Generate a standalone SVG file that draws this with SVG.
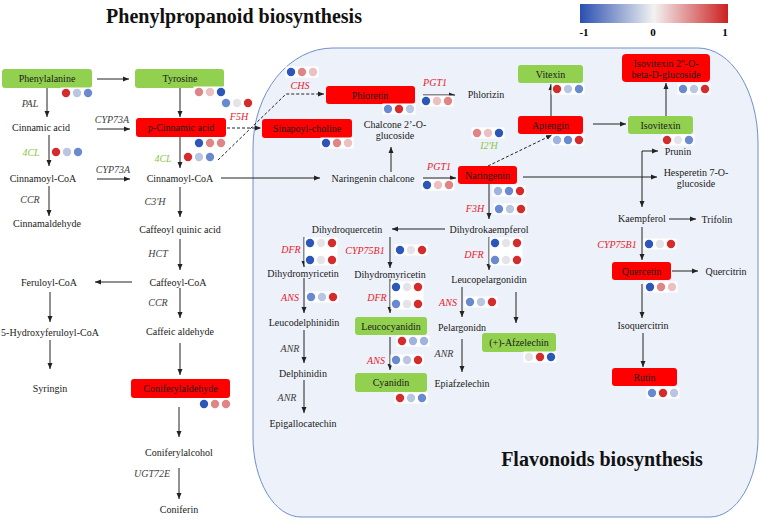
<svg xmlns="http://www.w3.org/2000/svg" width="760" height="520" viewBox="0 0 760 520">
<defs>
<linearGradient id="cb" x1="0" y1="0" x2="1" y2="0">
<stop offset="0" stop-color="#2a4fb0"/>
<stop offset="0.5" stop-color="#f2f2f2"/>
<stop offset="1" stop-color="#cc2020"/>
</linearGradient>
<marker id="ah" markerWidth="6" markerHeight="6" refX="6" refY="3" orient="auto-start-reverse" markerUnits="userSpaceOnUse">
<path d="M0,0.5 L6,3 L0,5.5 z" fill="#222"/>
</marker>
</defs>
<style>
.t{font-family:"Liberation Serif","Times New Roman",serif;font-size:10px;fill:#1a1a1a;text-anchor:middle}
.ti{font-family:"Liberation Serif","Times New Roman",serif;font-size:20px;font-weight:bold;fill:#111;text-anchor:middle}
.e{font-family:"Liberation Serif","Times New Roman",serif;font-size:10px;font-style:italic;text-anchor:middle;fill:#404040}
.er{fill:#e8202a}
.eg{fill:#8cc63f}
.gb{fill:#92d050}
.rb{fill:#ff0000}
.c line,.c path{stroke:#222;stroke-width:1;fill:none;marker-end:url(#ah)}
.c .d{stroke-dasharray:3,2}
.wb{fill:#fff}
.R{fill:#d42c2c}.P{fill:#e08585}.LP{fill:#ecc0c0}.G{fill:#e4e4e8}.LB{fill:#b8c6e2}.L2{fill:#9fb3e0}.MB{fill:#6a8ad0}.B{fill:#2c56b8}
</style>
<rect width="760" height="520" fill="#fff"/>
<path id="flavonoid-region" d="M333,48 H698 A60,95 0 0 1 758,143 V437 A48,80 0 0 1 710,517 H301 A48,80 0 0 1 253,437 V148 A80,100 0 0 1 333,48 Z" fill="#edf1f9" stroke="#7090c8" stroke-width="1"/>
<text class="ti" x="234" y="23">Phenylpropanoid biosynthesis</text>
<text class="ti" x="602" y="466">Flavonoids biosynthesis</text>
<g id="colorbar">
<rect x="580" y="4" width="148" height="19" fill="url(#cb)"/>
<text x="584" y="36" font-family="Liberation Serif, serif" font-size="11" font-weight="bold" text-anchor="middle">-1</text>
<text x="653" y="36" font-family="Liberation Serif, serif" font-size="11" font-weight="bold" text-anchor="middle">0</text>
<text x="725" y="36" font-family="Liberation Serif, serif" font-size="11" font-weight="bold" text-anchor="middle">1</text>
</g>
<g class="c" id="connectors">
<line x1="97" y1="79" x2="129" y2="79"/>
<line x1="47" y1="88" x2="47" y2="117"/>
<line x1="180" y1="88" x2="180" y2="117"/>
<line x1="97" y1="129" x2="130" y2="129"/>
<line class="d" x1="227" y1="128" x2="261" y2="128"/>
<line x1="49" y1="135" x2="49" y2="166"/>
<line x1="97" y1="179" x2="130" y2="179"/>
<line x1="180" y1="137" x2="180" y2="168"/>
<line x1="221" y1="178" x2="320" y2="178"/>
<path class="d" d="M218,160 L286,94 L324,94"/>
<line x1="49" y1="186" x2="49" y2="216"/>
<line x1="180" y1="187" x2="180" y2="217"/>
<line x1="180" y1="239" x2="180" y2="270"/>
<line x1="132" y1="282" x2="95" y2="282"/>
<line x1="180" y1="288" x2="180" y2="318"/>
<line x1="180" y1="343" x2="180" y2="375"/>
<line x1="179" y1="407" x2="179" y2="437"/>
<line x1="179" y1="468" x2="179" y2="499"/>
<line x1="50" y1="292" x2="50" y2="322"/>
<line x1="50" y1="340" x2="50" y2="369"/>
<line x1="391" y1="172" x2="391" y2="147"/>
<line x1="423" y1="95" x2="455" y2="95"/>
<line x1="423" y1="178" x2="456" y2="178"/>
<line class="d" x1="488" y1="166" x2="552" y2="135"/>
<line x1="523" y1="177" x2="657" y2="177"/>
<path d="M642,207 L642,151 L658,151" style="marker-start:url(#ah)"/>
<line x1="593" y1="124" x2="626" y2="124"/>
<line x1="551" y1="116" x2="551" y2="84"/>
<line x1="666" y1="116" x2="666" y2="83"/>
<line x1="489" y1="184" x2="489" y2="219"/>
<line x1="445" y1="229" x2="392" y2="229"/>
<line x1="304" y1="237" x2="304" y2="267"/>
<line x1="304" y1="278" x2="304" y2="313"/>
<line x1="304" y1="330" x2="304" y2="363"/>
<line x1="304" y1="380" x2="304" y2="413"/>
<line x1="390" y1="237" x2="390" y2="268"/>
<line x1="390" y1="279" x2="390" y2="313"/>
<line x1="390" y1="337" x2="390" y2="370"/>
<line x1="489" y1="237" x2="489" y2="270"/>
<line x1="462" y1="287" x2="462" y2="317"/>
<line x1="516" y1="292" x2="516" y2="323"/>
<line x1="462" y1="339" x2="462" y2="372"/>
<line x1="669" y1="219" x2="696" y2="219"/>
<line x1="642" y1="227" x2="642" y2="260"/>
<line x1="672" y1="271" x2="698" y2="271"/>
<line x1="642" y1="284" x2="642" y2="318"/>
<line x1="643" y1="333" x2="643" y2="367"/>
</g>
<g id="enzymes">
<text class="e" x="30" y="106.5">PAL</text>
<text class="e" x="112" y="122.5">CYP73A</text>
<text class="e er" x="239" y="119.5">F5H</text>
<text class="e eg" x="31" y="155.5">4CL</text>
<text class="e" x="113" y="172.5">CYP73A</text>
<text class="e eg" x="163" y="161.5">4CL</text>
<text class="e" x="30" y="202.5">CCR</text>
<text class="e" x="155" y="204.5">C3'H</text>
<text class="e" x="158" y="256.5">HCT</text>
<text class="e" x="158" y="305.5">CCR</text>
<text class="e" x="152" y="476.5">UGT72E</text>
<text class="e er" x="300" y="88.5">CHS</text>
<text class="e er" x="435" y="85.5">PGT1</text>
<text class="e er" x="439" y="169.5">PGT1</text>
<text class="e eg" x="489" y="148.5">I2'H</text>
<text class="e er" x="475" y="211.5">F3H</text>
<text class="e er" x="291" y="252.5">DFR</text>
<text class="e er" x="290" y="300.5">ANS</text>
<text class="e" x="290" y="351.5">ANR</text>
<text class="e" x="287" y="400.5">ANR</text>
<text class="e er" x="365" y="253.5">CYP75B1</text>
<text class="e er" x="377" y="300.5">DFR</text>
<text class="e er" x="376" y="363.5">ANS</text>
<text class="e er" x="474" y="257.5">DFR</text>
<text class="e er" x="448" y="305.5">ANS</text>
<text class="e" x="444" y="356.5">ANR</text>
<text class="e er" x="617" y="247.5">CYP75B1</text>
</g>
<g id="phenylalanine"><rect class="gb" x="2" y="69" width="90" height="19" rx="3"/><text class="t" x="47" y="82">Phenylalanine</text></g>
<g id="tyrosine"><rect class="gb" x="135" y="69" width="89" height="19" rx="3"/><text class="t" x="180" y="82">Tyrosine</text></g>
<g id="p-cinnamic-acid"><rect class="rb" x="136" y="118" width="90" height="19" rx="3"/><text class="t" x="181" y="131">p-Cinnamic acid</text></g>
<g id="sinapoyl-choline"><rect class="rb" x="262" y="119" width="90" height="19" rx="3"/><text class="t" x="307" y="132">Sinapoyl-choline</text></g>
<g id="phloretin"><rect class="rb" x="326" y="86" width="89" height="18" rx="3"/><text class="t" x="370" y="98.5">Phloretin</text></g>
<g id="coniferylaldehyde"><rect class="rb" x="131" y="379" width="99" height="19" rx="3"/><text class="t" x="180.5" y="392">Coniferylaldehyde</text></g>
<g id="cinnamic-acid"><text class="t" x="41" y="130.5">Cinnamic acid</text></g>
<g id="cinnamoyl-coa-1"><text class="t" x="43" y="181.5">Cinnamoyl-CoA</text></g>
<g id="cinnamaldehyde"><text class="t" x="47" y="226.5">Cinnamaldehyde</text></g>
<g id="cinnamoyl-coa-2"><text class="t" x="180" y="181.5">Cinnamoyl-CoA</text></g>
<g id="caffeoyl-quinic-acid"><text class="t" x="180" y="232.5">Caffeoyl quinic acid</text></g>
<g id="caffeoyl-coa"><text class="t" x="178" y="285.5">Caffeoyl-CoA</text></g>
<g id="feruloyl-coa"><text class="t" x="49" y="285.5">Feruloyl-CoA</text></g>
<g id="hydroxyferuloyl-coa"><text class="t" x="50" y="335.5">5-Hydroxyferuloyl-CoA</text></g>
<g id="syringin"><text class="t" x="50" y="391.5">Syringin</text></g>
<g id="caffeic-aldehyde"><text class="t" x="180" y="334.5">Caffeic aldehyde</text></g>
<g id="coniferylalcohol"><text class="t" x="179" y="455.5">Coniferylalcohol</text></g>
<g id="coniferin"><text class="t" x="179" y="512.5">Coniferin</text></g>
<g id="naringenin-chalcone"><text class="t" x="373" y="181.5">Naringenin chalcone</text></g>
<g id="chalcone-glucoside"><text class="t" x="395" y="127.5">Chalcone 2’-O-</text><text class="t" x="395" y="138.5">glucoside</text></g>
<g id="phlorizin"><text class="t" x="486" y="97.5">Phlorizin</text></g>
<g id="naringenin"><rect class="rb" x="458" y="166" width="59" height="18" rx="3"/><text class="t" x="487.5" y="178.5">Naringenin</text></g>
<g id="apiengin"><rect class="rb" x="518" y="116" width="65" height="18" rx="3"/><text class="t" x="550.5" y="128.5">Apiengin</text></g>
<g id="vitexin"><rect class="gb" x="518" y="65" width="65" height="18" rx="3"/><text class="t" x="550.5" y="77.5">Vitexin</text></g>
<g id="isovitexin"><rect class="gb" x="628" y="116" width="65" height="18" rx="3"/><text class="t" x="660.5" y="128.5">Isovitexin</text></g>
<g id="isovitexin-glucoside"><rect class="rb" x="622" y="54" width="88" height="28" rx="4"/><text class="t" x="666" y="66.5">Isovitexin 2''-O-</text><text class="t" x="666" y="78">beta-D-glucoside</text></g>
<g id="prunin"><text class="t" x="678" y="154.5">Prunin</text></g>
<g id="hesperetin"><text class="t" x="696" y="175.5">Hesperetin 7-O-</text><text class="t" x="696" y="186.5">glucoside</text></g>
<g id="dihydrokaempferol"><text class="t" x="489" y="232.5">Dihydrokaempferol</text></g>
<g id="dihydroquercetin"><text class="t" x="347" y="232.5">Dihydroquercetin</text></g>
<g id="dihydromyricetin-1"><text class="t" x="303" y="276.5">Dihydromyricetin</text></g>
<g id="leucodelphinidin"><text class="t" x="304" y="325.5">Leucodelphinidin</text></g>
<g id="delphinidin"><text class="t" x="303" y="376.5">Delphinidin</text></g>
<g id="epigallocatechin"><text class="t" x="303" y="426.5">Epigallocatechin</text></g>
<g id="dihydromyricetin-2"><text class="t" x="390" y="277.5">Dihydromyricetin</text></g>
<g id="leucocyanidin"><rect class="gb" x="355" y="317" width="72" height="18" rx="3"/><text class="t" x="391" y="329.5">Leucocyanidin</text></g>
<g id="cyanidin"><rect class="gb" x="355" y="373" width="72" height="19" rx="3"/><text class="t" x="391" y="386">Cyanidin</text></g>
<g id="leucopelargonidin"><text class="t" x="489" y="282.5">Leucopelargonidin</text></g>
<g id="pelargonidn"><text class="t" x="462" y="330.5">Pelargonidn</text></g>
<g id="afzelechin"><rect class="gb" x="482" y="333" width="74" height="19" rx="3"/><text class="t" x="519" y="346">(+)-Afzelechin</text></g>
<g id="epiafzelechin"><text class="t" x="462" y="386.5">Epiafzelechin</text></g>
<g id="kaempferol"><text class="t" x="642" y="221.5">Kaempferol</text></g>
<g id="trifolin"><text class="t" x="717" y="222.5">Trifolin</text></g>
<g id="quercetin"><rect class="rb" x="612" y="262" width="59" height="18" rx="3"/><text class="t" x="641.5" y="274.5">Quercetin</text></g>
<g id="quercitrin"><text class="t" x="726" y="274.5">Quercitrin</text></g>
<g id="isoquercitrin"><text class="t" x="643" y="328.5">Isoquercitrin</text></g>
<g id="rutin"><rect class="rb" x="612" y="368" width="65" height="18" rx="3"/><text class="t" x="644.5" y="380.5">Rutin</text></g>
<g id="dots">
<rect class="wb" x="60.5" y="87.5" width="33" height="11"/><circle class="R" cx="66" cy="93" r="4.2"/><circle class="LB" cx="77" cy="93" r="4.2"/><circle class="MB" cx="88" cy="93" r="4.2"/>
<rect class="wb" x="193.5" y="86.5" width="33" height="11"/><circle class="P" cx="199" cy="92" r="4.2"/><circle class="LP" cx="210" cy="92" r="4.2"/><circle class="B" cx="221" cy="92" r="4.2"/>
<rect class="wb" x="220.5" y="97.5" width="33" height="11"/><circle class="MB" cx="226" cy="103" r="4.2"/><circle class="G" cx="237" cy="103" r="4.2"/><circle class="R" cx="248" cy="103" r="4.2"/>
<rect class="wb" x="50.5" y="146.5" width="33" height="11"/><circle class="R" cx="56" cy="152" r="4.2"/><circle class="LB" cx="67" cy="152" r="4.2"/><circle class="MB" cx="78" cy="152" r="4.2"/>
<rect class="wb" x="193.5" y="137.5" width="33" height="11"/><circle class="B" cx="199" cy="143" r="4.2"/><circle class="P" cx="210" cy="143" r="4.2"/><circle class="P" cx="221" cy="143" r="4.2"/>
<rect class="wb" x="182.5" y="151.5" width="33" height="11"/><circle class="R" cx="188" cy="157" r="4.2"/><circle class="LB" cx="199" cy="157" r="4.2"/><circle class="MB" cx="210" cy="157" r="4.2"/>
<rect class="wb" x="285.5" y="66.5" width="33" height="11"/><circle class="B" cx="291" cy="72" r="4.2"/><circle class="P" cx="302" cy="72" r="4.2"/><circle class="LP" cx="313" cy="72" r="4.2"/>
<rect class="wb" x="382.5" y="103.5" width="33" height="11"/><circle class="MB" cx="388" cy="109" r="4.2"/><circle class="R" cx="399" cy="109" r="4.2"/><circle class="LB" cx="410" cy="109" r="4.2"/>
<rect class="wb" x="320.5" y="137.5" width="33" height="11"/><circle class="B" cx="326" cy="143" r="4.2"/><circle class="P" cx="337" cy="143" r="4.2"/><circle class="LP" cx="348" cy="143" r="4.2"/>
<rect class="wb" x="420.5" y="95.5" width="33" height="11"/><circle class="B" cx="426" cy="101" r="4.2"/><circle class="LP" cx="437" cy="101" r="4.2"/><circle class="P" cx="448" cy="101" r="4.2"/>
<rect class="wb" x="421.5" y="179.5" width="33" height="11"/><circle class="B" cx="427" cy="185" r="4.2"/><circle class="LP" cx="438" cy="185" r="4.2"/><circle class="P" cx="449" cy="185" r="4.2"/>
<rect class="wb" x="471.5" y="127.5" width="33" height="11"/><circle class="P" cx="477" cy="133" r="4.2"/><circle class="LP" cx="488" cy="133" r="4.2"/><circle class="B" cx="499" cy="133" r="4.2"/>
<rect class="wb" x="492.5" y="185.5" width="33" height="11"/><circle class="L2" cx="498" cy="191" r="4.2"/><circle class="MB" cx="509" cy="191" r="4.2"/><circle class="R" cx="520" cy="191" r="4.2"/>
<rect class="wb" x="493.5" y="203.5" width="33" height="11"/><circle class="MB" cx="499" cy="209" r="4.2"/><circle class="LB" cx="510" cy="209" r="4.2"/><circle class="R" cx="521" cy="209" r="4.2"/>
<rect class="wb" x="551.5" y="134.5" width="33" height="11"/><circle class="L2" cx="557" cy="140" r="4.2"/><circle class="MB" cx="568" cy="140" r="4.2"/><circle class="R" cx="579" cy="140" r="4.2"/>
<rect class="wb" x="551.5" y="83.5" width="33" height="11"/><circle class="R" cx="557" cy="89" r="4.2"/><circle class="LB" cx="568" cy="89" r="4.2"/><circle class="MB" cx="579" cy="89" r="4.2"/>
<rect class="wb" x="677.5" y="83.5" width="33" height="11"/><circle class="MB" cx="683" cy="89" r="4.2"/><circle class="LB" cx="694" cy="89" r="4.2"/><circle class="R" cx="705" cy="89" r="4.2"/>
<rect class="wb" x="661.5" y="134.5" width="33" height="11"/><circle class="R" cx="667" cy="140" r="4.2"/><circle class="G" cx="678" cy="140" r="4.2"/><circle class="MB" cx="689" cy="140" r="4.2"/>
<rect class="wb" x="304.5" y="237.5" width="33" height="28"/><circle class="B" cx="310" cy="243" r="4.2"/><circle class="G" cx="321" cy="243" r="4.2"/><circle class="R" cx="332" cy="243" r="4.2"/><circle class="B" cx="310" cy="260" r="4.2"/><circle class="G" cx="321" cy="260" r="4.2"/><circle class="R" cx="332" cy="260" r="4.2"/>
<rect class="wb" x="305.5" y="291.5" width="33" height="11"/><circle class="MB" cx="311" cy="297" r="4.2"/><circle class="LB" cx="322" cy="297" r="4.2"/><circle class="R" cx="333" cy="297" r="4.2"/>
<rect class="wb" x="394.5" y="244.5" width="33" height="11"/><circle class="B" cx="400" cy="250" r="4.2"/><circle class="G" cx="411" cy="250" r="4.2"/><circle class="R" cx="422" cy="250" r="4.2"/>
<rect class="wb" x="390.5" y="281.5" width="33" height="28"/><circle class="B" cx="396" cy="287" r="4.2"/><circle class="G" cx="407" cy="287" r="4.2"/><circle class="R" cx="418" cy="287" r="4.2"/><circle class="MB" cx="396" cy="304" r="4.2"/><circle class="G" cx="407" cy="304" r="4.2"/><circle class="R" cx="418" cy="304" r="4.2"/>
<rect class="wb" x="396.5" y="335.5" width="33" height="11"/><circle class="R" cx="402" cy="341" r="4.2"/><circle class="L2" cx="413" cy="341" r="4.2"/><circle class="L2" cx="424" cy="341" r="4.2"/>
<rect class="wb" x="390.5" y="354.5" width="33" height="11"/><circle class="MB" cx="396" cy="360" r="4.2"/><circle class="LB" cx="407" cy="360" r="4.2"/><circle class="R" cx="418" cy="360" r="4.2"/>
<rect class="wb" x="394.5" y="392.5" width="33" height="11"/><circle class="R" cx="400" cy="398" r="4.2"/><circle class="LB" cx="411" cy="398" r="4.2"/><circle class="MB" cx="422" cy="398" r="4.2"/>
<rect class="wb" x="489.5" y="237.5" width="33" height="28"/><circle class="B" cx="495" cy="243" r="4.2"/><circle class="G" cx="506" cy="243" r="4.2"/><circle class="R" cx="517" cy="243" r="4.2"/><circle class="MB" cx="495" cy="260" r="4.2"/><circle class="G" cx="506" cy="260" r="4.2"/><circle class="R" cx="517" cy="260" r="4.2"/>
<rect class="wb" x="464.5" y="296.5" width="33" height="11"/><circle class="MB" cx="470" cy="302" r="4.2"/><circle class="LB" cx="481" cy="302" r="4.2"/><circle class="R" cx="492" cy="302" r="4.2"/>
<rect class="wb" x="523.5" y="351.5" width="33" height="11"/><circle class="G" cx="529" cy="357" r="4.2"/><circle class="R" cx="540" cy="357" r="4.2"/><circle class="B" cx="551" cy="357" r="4.2"/>
<rect class="wb" x="643.5" y="238.5" width="33" height="11"/><circle class="B" cx="649" cy="244" r="4.2"/><circle class="G" cx="660" cy="244" r="4.2"/><circle class="R" cx="671" cy="244" r="4.2"/>
<rect class="wb" x="644.5" y="281.5" width="33" height="11"/><circle class="B" cx="650" cy="287" r="4.2"/><circle class="P" cx="661" cy="287" r="4.2"/><circle class="LP" cx="672" cy="287" r="4.2"/>
<rect class="wb" x="646.5" y="387.5" width="33" height="11"/><circle class="MB" cx="652" cy="393" r="4.2"/><circle class="R" cx="663" cy="393" r="4.2"/><circle class="LB" cx="674" cy="393" r="4.2"/>
<rect class="wb" x="198.5" y="398.5" width="33" height="11"/><circle class="B" cx="204" cy="404" r="4.2"/><circle class="P" cx="215" cy="404" r="4.2"/><circle class="P" cx="226" cy="404" r="4.2"/>
</g>
</svg>
